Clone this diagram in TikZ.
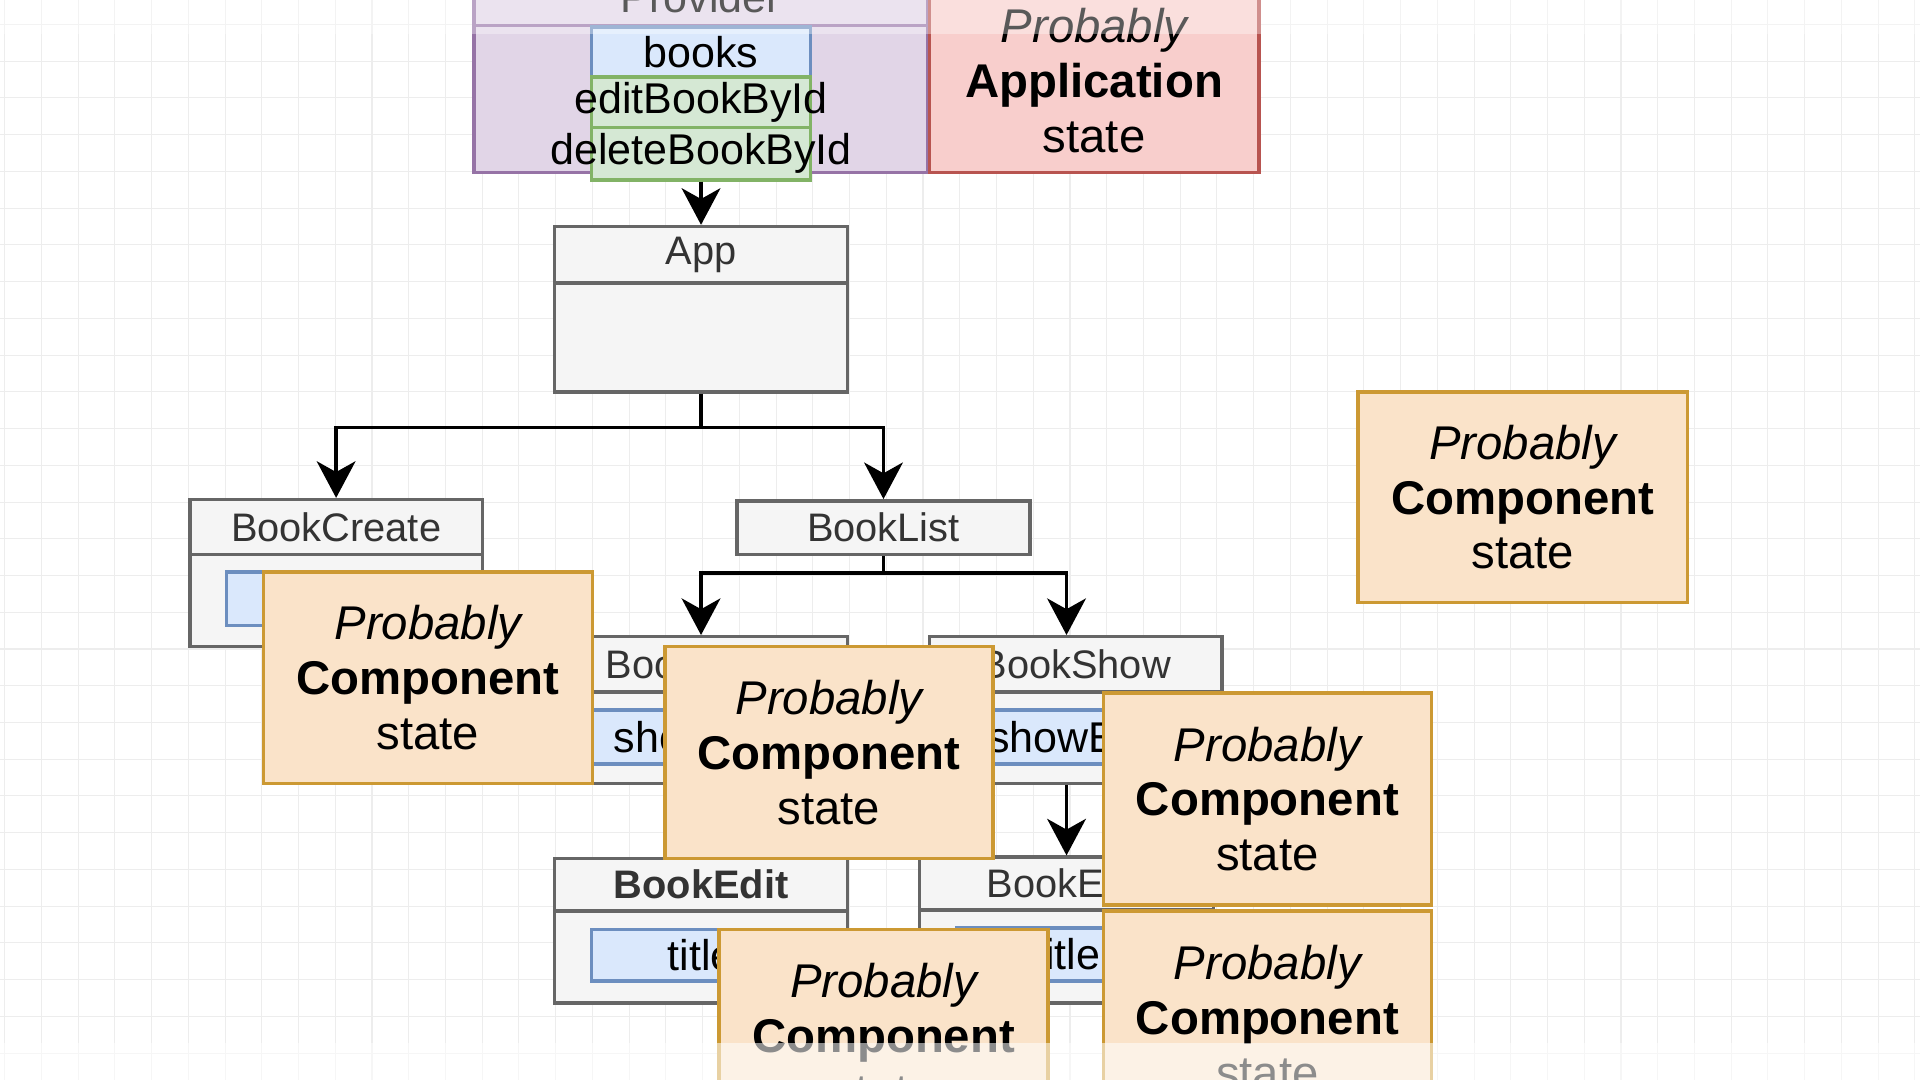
\documentclass[tikz,border=0pt]{standalone}
\usepackage{fontspec}
\setmainfont{Liberation Sans}
\usetikzlibrary{arrows.meta}

\definecolor{graybg}{HTML}{F5F5F5}
\definecolor{grayline}{HTML}{666666}
\definecolor{graytext}{HTML}{333333}
\definecolor{bluebg}{HTML}{DAE8FC}
\definecolor{blueline}{HTML}{6C8EBF}
\definecolor{greenbg}{HTML}{D5E8D4}
\definecolor{greenline}{HTML}{82B366}
\definecolor{purplebg}{HTML}{E1D5E7}
\definecolor{purpleline}{HTML}{9673A6}
\definecolor{redbg}{HTML}{F8CECC}
\definecolor{redline}{HTML}{B85450}
\definecolor{orangebg}{HTML}{FAE3C9}
\definecolor{orangeline}{HTML}{CC9933}

\tikzset{
  wh/.style 2 args={minimum width=#1*0.02cm, minimum height=#2*0.02cm},
  box/.style={draw, line width=1.6pt, inner sep=0pt},
  comp/.style={box, draw=grayline, fill=graybg, text=graytext, font=\fontsize{18.5}{22}\selectfont},
  prop/.style={box, draw=blueline, fill=bluebg},
  func/.style={box, draw=greenline, fill=greenbg},
  tag/.style={font=\fontsize{20}{24}\selectfont, inner sep=0pt},
  guess/.style={box, draw=orangeline, fill=orangebg, align=center, font=\fontsize{22}{25.5}\selectfont},
  link/.style={line width=1.6pt, -{Stealth[length=17pt, width=18pt, inset=5pt]}},
  gridline/.style={draw=black!7, line width=0.5pt},
}

\begin{document}
\begin{tikzpicture}[x=0.02cm, y=-0.02cm]

      \useasboundingbox (0,0) rectangle (1568,882);
      \clip (0,0) rectangle (1568,882);
      \fill[white] (0,0) rectangle (1568,882);

      % background grid
      \foreach \gx in {3.8,33.8,...,1568} \draw[gridline] (\gx,0) -- (\gx,882);
      \foreach \gy in {20,50,...,882} \draw[gridline] (0,\gy) -- (1568,\gy);

      % context provider
      \node[box, draw=purpleline, fill=purplebg, wh={371}{46}, font=\fontsize{20}{24}\selectfont]
            (provider) at (572.5,-2) {Provider};
      \node[box, draw=purpleline, fill=purplebg, wh={371}{120}] (providerbody) at (572.5,81) {};
      \node[box, draw=redline, fill=redbg, wh={269}{150}, align=center, font=\fontsize{22}{25.5}\selectfont]
            (appstate) at (893.5,66) {{\itshape Probably}\\{\bfseries Application}\\state};

      \node[prop, wh={179}{41}, label={[tag]center:books}] (books) at (572.5,42.5) {};
      \node[func, wh={179}{41}, label={[tag]center:editBookById}] (editbyid) at (572.5,83.5) {};
      \node[func, wh={179}{43}, label={[tag]center:deleteBookById}] (deletebyid) at (572.5,125.5) {};

      % components
      \begin{scope}[every node/.style={comp}]
        \node[wh={239}{89}] (appbody) at (572.5,275.5) {};
        \node[wh={239}{46}] (app) at (572.5,208) {App};

        \node[wh={239}{75}] (createbody) at (274.5,490.5) {};
        \node[wh={239}{45}] (create) at (274.5,430.5) {BookCreate};

        \node[wh={239}{44}] (list) at (721.5,431) {BookList};

        \node[wh={239}{75}] (showLbody) at (572.5,602.5) {};
        \node[wh={239}{45}] (showL) at (572.5,542.5) {BookShow};

        \node[wh={239}{75}] (showRbody) at (878.5,602.5) {};
        \node[wh={239}{45}] (showR) at (878.5,542.5) {BookShow};

        \node[wh={239}{75}] (editLbody) at (572.5,781.5) {};
        \node[wh={239}{43}, font=\fontsize{18.5}{22}\selectfont\bfseries] (editL) at (572.5,722.5) {BookEdit};

        \node[wh={240}{76}] (editRbody) at (871,781) {};
        \node[wh={240}{43}] (editR) at (871,721.5) {BookEdit};
      \end{scope}

      \begin{scope}[every node/.style={prop}]
        \node[wh={179}{44}] (createprop) at (274.5,489) {};
        \node[wh={179}{44}, label={[tag]center:showEdit}] (showLprop) at (572.5,602) {};
        \node[wh={179}{44}, label={[tag]center:showEdit}] (showRprop) at (878.5,602) {};
        \node[wh={179}{42}, label={[tag]center:title}] (editLprop) at (572.5,780) {};
        \node[wh={180}{43}, label={[tag]center:title}] (editRprop) at (871,779.5) {};
      \end{scope}

      % connectors
      \coordinate (appfork) at (572.5,349);
      \coordinate (listfork) at (721.5,468);
      \draw[link] (deletebyid.south) -- (app.north);
      \draw[link] (appbody.south) -- (appfork) -| (create.north);
      \draw[link] (appfork) -| (list.north);
      \draw[link] (list.south) -- (listfork) -| (showL.north);
      \draw[link] (listfork) -| (showR.north -| editR.north);
      \draw[link] (editR.north |- showRbody.south) -- (editR.north);

      % state notes
      \begin{scope}[every node/.style={guess}]
        \node[wh={269}{173}] (guessA) at (349.5,553.5) {{\itshape Probably}\\{\bfseries Component}\\state};
        \node[wh={268}{173}] (guessB) at (677,614.5) {{\itshape Probably}\\{\bfseries Component}\\state};
        \node[wh={269}{174}] (guessC) at (721.5,846) {{\itshape Probably}\\{\bfseries Component}\\state};
        \node[wh={268}{173}] (guessD) at (1035,652.5) {{\itshape Probably}\\{\bfseries Component}\\state};
        \node[wh={268}{174}] (guessE) at (1035,831) {{\itshape Probably}\\{\bfseries Component}\\state};
        \node[wh={269}{172}] (guessF) at (1243.5,406) {{\itshape Probably}\\{\bfseries Component}\\state};
      \end{scope}

      % screen bars
      \fill[white, opacity=0.35] (0,0) rectangle (1568,28);
      \fill[white, opacity=0.55] (0,852) rectangle (1568,882);

    \end{tikzpicture}
\end{document}
